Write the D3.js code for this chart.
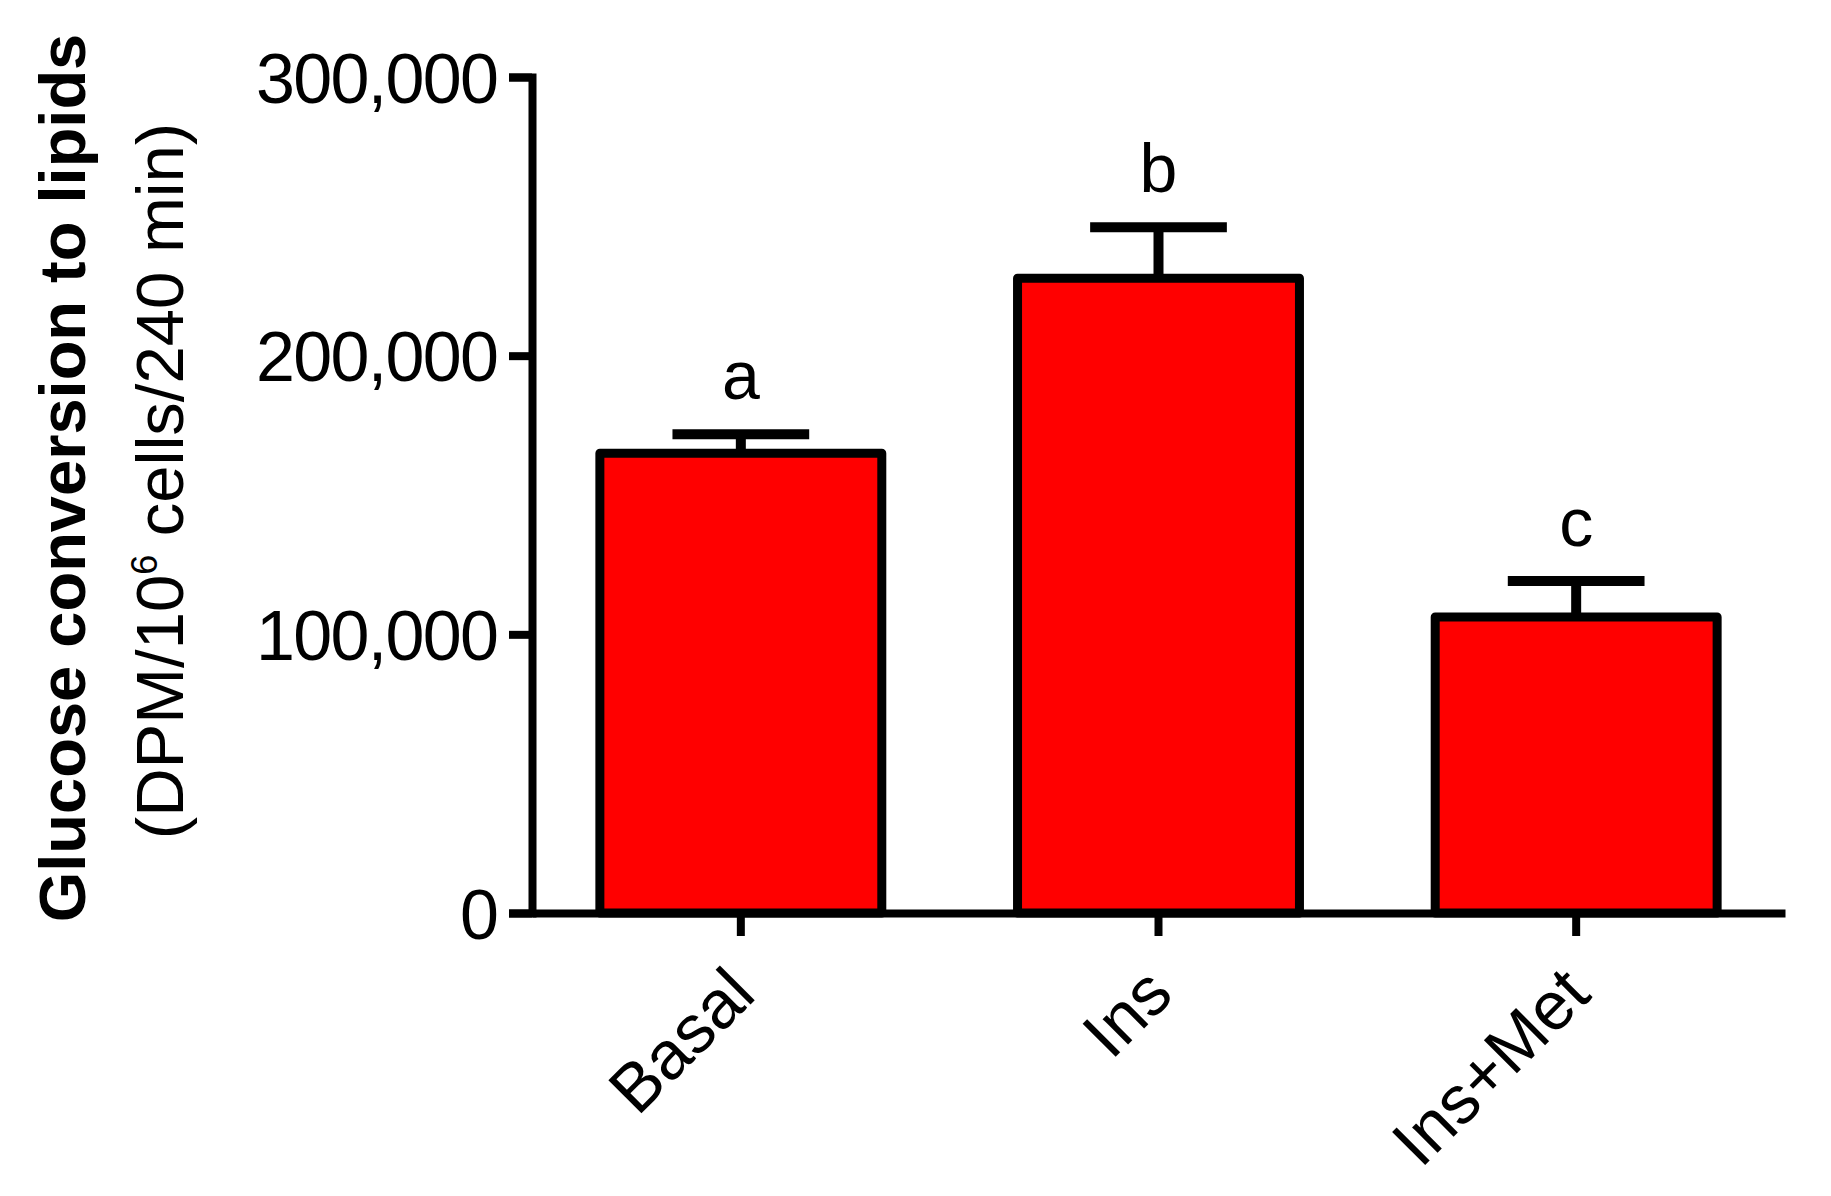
<!DOCTYPE html>
<html>
<head>
<meta charset="utf-8">
<script src="https://cdn.jsdelivr.net/npm/d3@7"></script>
<style>
  body { margin: 0; background: #fff; }
  svg { display: block; font-family: "Liberation Sans", Arial, sans-serif; }
</style>
</head>
<body>
<div id="chart"></div>
<script>
// data
var groups = ["Basal", "Ins", "Ins+Met"];
var means = [165000, 227800, 106200];
var sems = [6800, 18300, 12900];
var letters = ["a", "b", "c"];
var yTicks = [0, 100000, 200000, 300000];

var width = 1831, height = 1196;
var plotLeft = 532, plotRight = 1785, plotTop = 77, plotBottom = 913;

var svg = d3.select("#chart").append("svg").attr("width", width).attr("height", height);

var x = d3.scaleBand().domain(groups).range([plotLeft, plotRight]).paddingInner(0.325).paddingOuter(0.1625);
var y = d3.scaleLinear().domain([0, 300000]).range([plotBottom, plotTop]);

// y axis
var yAxis = svg.append("g").attr("transform", "translate(" + plotLeft + ",0)")
    .call(d3.axisLeft(y).tickValues(yTicks).tickFormat(d3.format(",")).tickSize(23).tickSizeOuter(23).tickPadding(10));
yAxis.select(".domain").attr("stroke-width", 8).attr("stroke-linejoin", "miter");
yAxis.selectAll(".tick line").attr("stroke-width", 8);
yAxis.selectAll(".tick text").attr("font-size", 70).attr("dy", "0.36em").attr("fill", "#000")
    .attr("textLength", function() { return this.getComputedTextLength() * 0.96; });

// x axis
var xAxis = svg.append("g").attr("transform", "translate(0," + plotBottom + ")")
    .call(d3.axisBottom(x).tickSize(23).tickSizeOuter(0));
xAxis.select(".domain").attr("stroke-width", 8);
xAxis.selectAll(".tick line").attr("stroke-width", 8);
xAxis.selectAll(".tick text").attr("font-size", 68).attr("fill", "#000")
    .attr("text-anchor", "end").attr("y", 0).attr("dy", 0)
    .attr("transform", "translate(17,84) rotate(-45)");

// bars
var bw = x.bandwidth();
svg.selectAll("rect.bar").data(groups).enter().append("rect").attr("class", "bar")
    .attr("x", d => x(d)).attr("width", bw)
    .attr("y", (d, i) => y(means[i])).attr("height", (d, i) => y(0) - y(means[i]))
    .attr("fill", "#ff0000").attr("stroke", "#000").attr("stroke-width", 9).attr("stroke-linejoin", "round");

// error bars (upper only)
var capW = bw * 0.485;
var eb = svg.selectAll("g.err").data(groups).enter().append("g").attr("class", "err");
eb.append("line")
    .attr("x1", d => x(d) + bw / 2).attr("x2", d => x(d) + bw / 2)
    .attr("y1", (d, i) => y(means[i])).attr("y2", (d, i) => y(means[i] + sems[i]))
    .attr("stroke", "#000").attr("stroke-width", 10);
eb.append("line")
    .attr("x1", d => x(d) + bw / 2 - capW / 2).attr("x2", d => x(d) + bw / 2 + capW / 2)
    .attr("y1", (d, i) => y(means[i] + sems[i])).attr("y2", (d, i) => y(means[i] + sems[i]))
    .attr("stroke", "#000").attr("stroke-width", 10);

// significance letters
svg.selectAll("text.sig").data(groups).enter().append("text").attr("class", "sig")
    .attr("x", d => x(d) + bw / 2).attr("y", (d, i) => y(means[i] + sems[i]) - 35)
    .attr("text-anchor", "middle").attr("font-size", 68).text((d, i) => letters[i]);

// y axis title
svg.append("text").attr("transform", "translate(85,478) rotate(-90)")
    .attr("text-anchor", "middle").attr("font-size", 65).attr("font-weight", "bold")
    .text("Glucose conversion to lipids");
var sub = svg.append("text").attr("transform", "translate(183,481) rotate(-90)")
    .attr("text-anchor", "middle").attr("font-size", 67);
sub.append("tspan").text("(DPM/10");
sub.append("tspan").attr("font-size", 36).attr("dy", -26).text("6");
sub.append("tspan").attr("dy", 26).text(" cells/240 min)");
</script>
</body>
</html>
